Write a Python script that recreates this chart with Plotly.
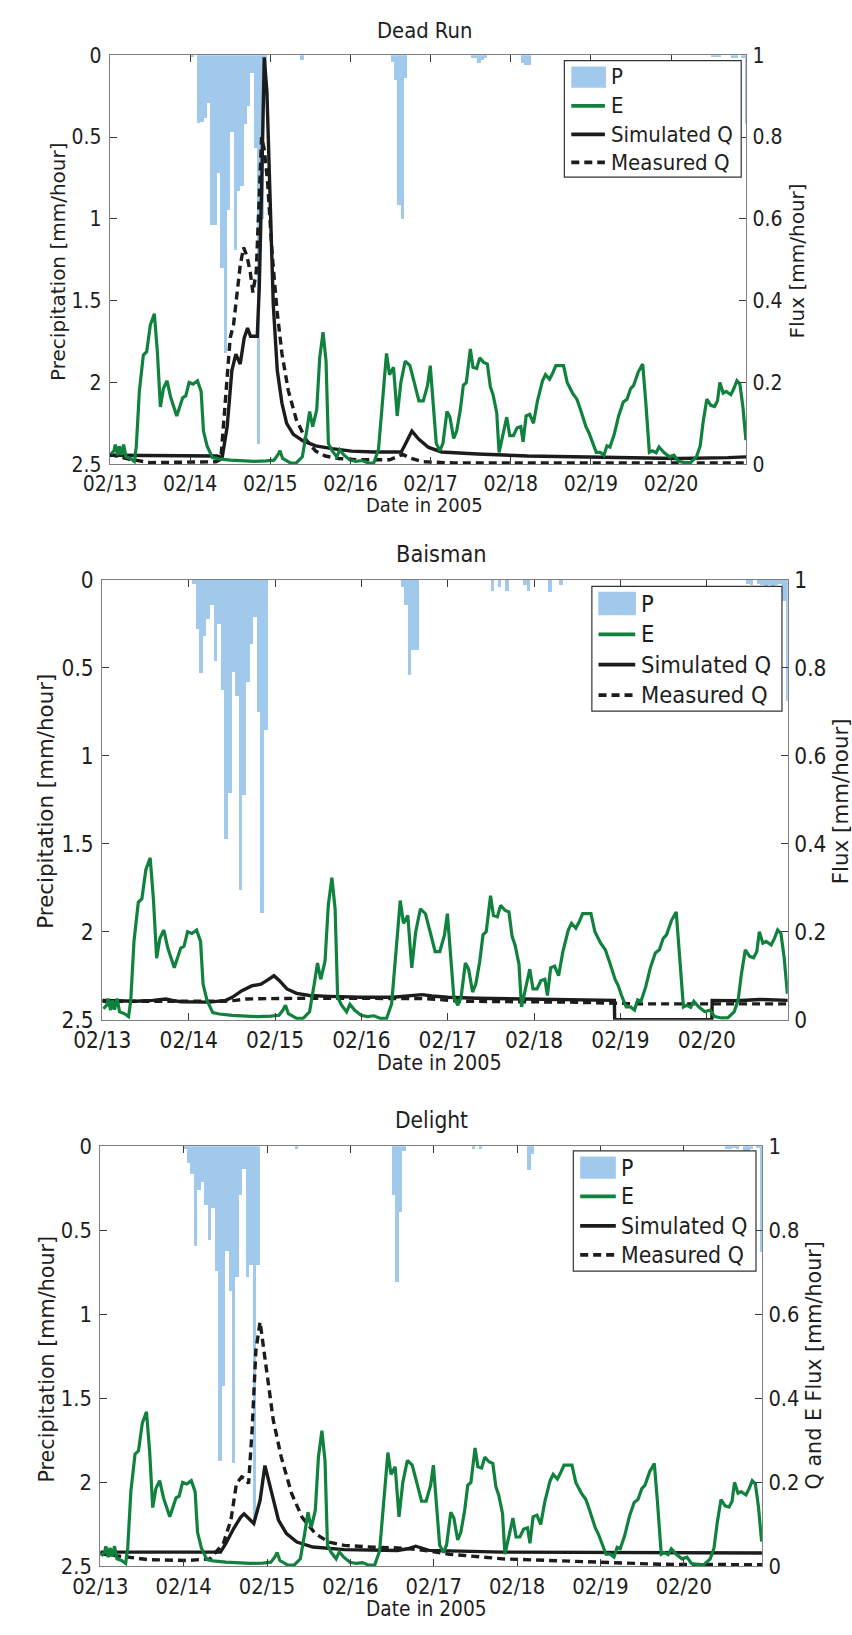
import pandas as pd
import plotly.graph_objects as go

W, H = 852, 1635
START = pd.Timestamp("2005-02-13 00:00")
END_HOURS = 190.5

def at(hours):
    return START + pd.to_timedelta(pd.Series(hours, dtype=float), unit="h")

# ---------------- data ----------------
day_ticks_h = [0, 24, 48, 72, 96, 120, 144, 168]
day_tick_labels = ["02/13", "02/14", "02/15", "02/16", "02/17", "02/18", "02/19", "02/20"]
p_ticks = [0, 0.5, 1, 1.5, 2, 2.5]
flux_ticks = [0, 0.2, 0.4, 0.6, 0.8, 1]

# evaporation (same forcing for the three catchments), hours since 02/13 00:00
e_hours = [0.3, 1.2, 1.6, 2.3, 2.8, 3.4, 4.1, 4.8, 6.1, 7.3, 7.9, 8.8, 10.0, 11.0, 12.1, 13.3,
           14.2, 15.1, 16.0, 17.1, 18.2, 20.0, 21.8, 22.7, 23.7, 24.9, 26.2, 27.3, 28.0, 29.1,
           30.7, 32.5, 36.1, 39.7, 43.2, 46.8, 49.1, 50.2, 50.9, 51.7, 54.0, 55.8, 57.6, 58.9,
           59.8, 60.7, 61.9, 62.8, 63.8, 64.7, 65.4, 66.5, 67.9, 68.8, 70.1, 71.9, 73.7, 75.5,
           77.3, 79.0, 80.4, 81.7, 82.8, 83.7, 84.9, 86.0, 87.1, 88.4, 89.8, 91.1, 92.5, 93.8,
           95.1, 95.9, 96.8, 97.7, 98.8, 99.7, 100.9, 101.8, 102.9, 103.8, 104.9, 105.8, 106.7,
           107.9, 108.7, 109.8, 110.7, 111.9, 113.0, 113.9, 114.7, 115.8, 116.5, 117.0, 118.2,
           118.8, 119.7, 120.8, 121.9, 123.0, 123.7, 124.6, 125.7, 126.8, 128.0, 129.5, 130.4,
           131.6, 132.5, 133.5, 135.8, 136.9, 138.5, 139.8, 140.9, 142.5, 143.4, 144.3, 145.6,
           146.8, 147.9, 148.8, 149.7, 151.0, 152.3, 153.7, 154.8, 155.9, 156.8, 158.2, 159.5,
           160.4, 161.5, 162.4, 163.5, 164.4, 165.8, 167.5, 168.9, 170.2, 172.0, 173.8, 175.6,
           176.7, 177.6, 178.7, 179.9, 181.0, 181.9, 182.6, 183.6, 184.5, 185.9, 186.8, 187.7,
           188.6, 189.5, 190.4]
e_flux = [0.025, 0.033, 0.048, 0.022, 0.044, 0.023, 0.048, 0.018, 0.014, 0.007, 0.044, 0.178,
          0.267, 0.275, 0.341, 0.368, 0.275, 0.140, 0.185, 0.204, 0.163, 0.118, 0.163, 0.167,
          0.200, 0.196, 0.204, 0.178, 0.081, 0.044, 0.016, 0.013, 0.010, 0.008, 0.007, 0.008,
          0.010, 0.022, 0.033, 0.014, 0.003, 0.003, 0.018, 0.081, 0.129, 0.092, 0.133, 0.260,
          0.323, 0.252, 0.051, 0.033, 0.018, 0.035, 0.022, 0.010, 0.007, 0.009, 0.003, 0.003,
          0.036, 0.163, 0.271, 0.219, 0.237, 0.118, 0.200, 0.252, 0.241, 0.200, 0.155, 0.155,
          0.193, 0.241, 0.155, 0.051, 0.033, 0.051, 0.129, 0.115, 0.063, 0.081, 0.133, 0.193,
          0.200, 0.282, 0.237, 0.234, 0.260, 0.249, 0.245, 0.189, 0.170, 0.126, 0.029, 0.048,
          0.096, 0.115, 0.070, 0.070, 0.089, 0.092, 0.055, 0.118, 0.122, 0.100, 0.155, 0.204,
          0.219, 0.208, 0.222, 0.241, 0.241, 0.200, 0.174, 0.159, 0.133, 0.092, 0.077, 0.055,
          0.029, 0.029, 0.022, 0.045, 0.042, 0.074, 0.118, 0.152, 0.159, 0.185, 0.193, 0.226,
          0.245, 0.155, 0.029, 0.033, 0.028, 0.042, 0.029, 0.018, 0.022, 0.007, 0.004, 0.004,
          0.018, 0.044, 0.103, 0.159, 0.144, 0.141, 0.155, 0.200, 0.174, 0.178, 0.170, 0.185,
          0.204, 0.196, 0.141, 0.059]

# Dead Run
dr_p_hours = [24, 26, 27, 28, 29, 30, 31, 32, 33, 34, 35, 36, 37, 38, 39, 40, 41, 42, 43, 44, 45, 46,
              57, 84, 85, 86, 87, 88, 108, 109, 110, 111, 112, 123, 124, 125,
              180, 181, 182, 186, 187, 189, 190]
dr_p = [0.014, 0.415, 0.41, 0.385, 0.295, 1.04, 1.04, 0.72, 1.30, 1.82, 0.95, 0.47, 1.19, 0.83,
        0.80, 0.42, 0.31, 0.11, 0.57, 2.38, 1.0, 0.2,
        0.03, 0.04, 0.15, 0.92, 1.0, 0.14, 0.02, 0.02, 0.05, 0.03, 0.02, 0.05, 0.06, 0.06,
        0.01, 0.01, 0.01, 0.02, 0.02, 0.02, 0.42]
dr_sim_hours = [0, 16, 25, 32, 33.6, 35.1, 36.5, 37.7, 39, 40.2, 41.2, 42.1, 44.1, 44.7, 45.4, 46.2,
                47, 48, 48.9, 50.1, 51.5, 52.9, 54.9, 57.8, 61.6, 66.5, 72.3, 79, 87.2, 88.2, 90.4,
                92.5, 95.4, 99.3, 103.1, 110, 125, 150, 170, 185, 190.5]
dr_sim = [0.022, 0.022, 0.022, 0.02, 0.016, 0.092, 0.229, 0.269, 0.245, 0.309, 0.333, 0.313, 0.313,
          0.43, 0.67, 0.995, 0.91, 0.63, 0.39, 0.229, 0.149, 0.10, 0.073, 0.057, 0.045, 0.038,
          0.032, 0.03, 0.03, 0.045, 0.081, 0.061, 0.041, 0.03, 0.028, 0.025, 0.02, 0.016, 0.014,
          0.016, 0.018]
dr_meas_hours = [0, 6, 12, 20, 31.7, 33.2, 34.1, 35.1, 36, 37, 38, 39, 40, 41, 42, 42.8, 43.8, 44.8,
                 45.4, 46.2, 47.2, 48.6, 50.1, 51.5, 53.4, 55.8, 58.7, 61.6, 64.5, 68.4, 74.2, 83.8,
                 87.7, 89.6, 93.5, 103, 190.5]
dr_meas = [0.024, 0.012, 0.004, 0.004, 0.006, 0.012, 0.117, 0.229, 0.309, 0.341, 0.406, 0.486, 0.53,
           0.51, 0.47, 0.42, 0.47, 0.67, 0.80, 0.77, 0.69, 0.51, 0.37, 0.27, 0.18, 0.109, 0.06,
           0.032, 0.02, 0.014, 0.011, 0.011, 0.024, 0.016, 0.006, 0.003, 0.003]

# Baisman
bs_p_hours = [25, 26, 27, 28, 29, 30, 31, 32, 33, 34, 35, 36, 37, 38, 39, 40, 41, 42, 43, 44, 45,
              83, 84, 85, 86, 87, 108, 110, 112, 117, 118, 124, 127,
              179, 180, 182, 183, 184, 185, 186, 187, 188, 189, 190]
bs_p = [0.02, 0.28, 0.53, 0.32, 0.22, 0.14, 0.46, 0.25, 0.625, 1.47, 1.21, 0.52, 0.66, 1.76, 1.22,
        0.58, 0.365, 0.21, 0.75, 1.89, 0.85,
        0.04, 0.14, 0.54, 0.40, 0.40, 0.06, 0.04, 0.06, 0.03, 0.06, 0.07, 0.03,
        0.02, 0.03, 0.02, 0.03, 0.04, 0.03, 0.04, 0.03, 0.02, 0.12, 0.69]
bs_sim_hours = [0, 9.2, 14, 17.7, 19.5, 21.8, 29.8, 34.3, 36.1, 38.8, 41.5, 44.1, 45.9, 47.7, 49.1,
                51.3, 54, 57.6, 63, 71.9, 80.8, 86.2, 88.9, 91.6, 96, 104, 113, 122, 131, 142.3,
                142.4, 169.4, 169.5, 176, 182.8, 190.5]
bs_sim = [0.044, 0.042, 0.044, 0.047, 0.044, 0.041, 0.040, 0.044, 0.051, 0.066, 0.077, 0.081, 0.09,
          0.10, 0.09, 0.07, 0.06, 0.055, 0.053, 0.051, 0.051, 0.054, 0.057, 0.054, 0.051, 0.049,
          0.048, 0.046, 0.046, 0.044, 0.0, 0.0, 0.044, 0.043, 0.046, 0.044]
bs_meas_hours = [0, 34, 37, 40, 46, 60, 90, 100, 130, 150, 170, 190.5]
bs_meas = [0.042, 0.042, 0.044, 0.047, 0.048, 0.049, 0.048, 0.042, 0.040, 0.036, 0.036, 0.036]

# Delight
dl_p_hours = [24, 25, 26, 27, 28, 29, 30, 31, 32, 33, 34, 35, 36, 37, 38, 39, 40, 41, 42, 43, 44, 45,
              56, 84, 85, 86, 87, 107, 109, 123, 124,
              180, 181, 182, 183, 185, 186, 187, 189, 190]
dl_p = [0.02, 0.10, 0.166, 0.596, 0.264, 0.215, 0.35, 0.557, 0.371, 0.742, 1.875, 1.426, 0.625,
        0.86, 1.885, 0.78, 0.293, 0.137, 0.78, 0.71, 2.22, 0.71,
        0.02, 0.29, 0.81, 0.39, 0.03, 0.02, 0.02, 0.14, 0.05,
        0.02, 0.02, 0.01, 0.02, 0.03, 0.03, 0.02, 0.01, 0.63]
dl_sim_hours = [0, 34.6, 36.1, 38.4, 40.4, 41.4, 44.2, 46, 47.4, 49.1, 51.3, 53.6, 56.6, 61.2, 70.3,
                85.5, 88.5, 90.8, 94.6, 115.8, 150, 190.5]
dl_sim = [0.034, 0.034, 0.054, 0.09, 0.117, 0.125, 0.102, 0.157, 0.24, 0.181, 0.11, 0.078, 0.058,
          0.046, 0.04, 0.038, 0.042, 0.048, 0.038, 0.034, 0.033, 0.032]
dl_meas_hours = [0, 6.5, 14, 25, 31.6, 35.4, 37.6, 39.2, 40.7, 41.8, 42.7, 43.7, 44.8, 46, 47.1, 48.3,
                 49.8, 52.1, 55.1, 58.1, 61.9, 65.7, 70.3, 77.9, 85.5, 91.6, 100.6, 115.8, 131,
                 146.2, 161.3, 190.5]
dl_meas = [0.03, 0.024, 0.016, 0.014, 0.018, 0.054, 0.11, 0.197, 0.213, 0.209, 0.197, 0.324, 0.514,
           0.582, 0.514, 0.435, 0.348, 0.26, 0.173, 0.117, 0.078, 0.058, 0.05, 0.046, 0.044, 0.04,
           0.029, 0.018, 0.013, 0.009, 0.005, 0.004]

# ---------------- styling ----------------
C_P = "#a0c9ec"
C_E = "#11823d"
C_Q = "#1c1c1c"
C_TXT = "#1e1e1e"
C_BOX = "#808080"
DASH = "8px,5px"
F_H = "DejaVu Sans Condensed, Liberation Sans, sans-serif"
F_V = "DejaVu Sans, sans-serif"

def fx(px):
    return px / W

def fy(py):
    return 1 - py / H

# panel geometry in pixels and font sizes
panels = [
    dict(name="Dead Run", right_title="Flux [mm/hour]",
         p_h=dr_p_hours, p=dr_p, sim_h=dr_sim_hours, sim=dr_sim, meas_h=dr_meas_hours, meas=dr_meas,
         left=83.8, right=742.5, top=43.0, bottom=458.5, s=1.0,
         title_xy=(409, 17.5), ylt_xy=(30, 252), yrt_xy=(795, 251.5), xt_xy=(409, 500),
         leg=dict(box=(554.2, 48.3, 737.3, 166.7), patch=(561.4, 54.3, 597.3, 76),
                  line=(561.4, 596.2), text_x=600.5, ys=(65, 94.3, 123.3, 151.7), fs=22)),
    dict(name="Baisman", right_title="Flux [mm/hour]",
         p_h=bs_p_hours, p=bs_p, sim_h=bs_sim_hours, sim=bs_sim, meas_h=bs_meas_hours, meas=bs_meas,
         left=75.9, right=785.5, top=576.0, bottom=1023.0, s=1.07,
         title_xy=(426.6, 549.5), ylt_xy=(17, 801), yrt_xy=(839.5, 801), xt_xy=(425, 1066),
         leg=dict(box=(582.7, 582.6, 779.5, 709.4), patch=(589.3, 588, 628.3, 612),
                  line=(589.6, 627.6), text_x=631.7, ys=(600.4, 631.4, 662.1, 693.2), fs=23.5)),
    dict(name="Delight", right_title="Q and E Flux [mm/hour]",
         p_h=dl_p_hours, p=dl_p, sim_h=dl_sim_hours, sim=dl_sim, meas_h=dl_meas_hours, meas=dl_meas,
         left=73.8, right=758.8, top=1151.5, bottom=1578.5, s=1.035,
         title_xy=(417, 1125), ylt_xy=(19, 1368), yrt_xy=(813, 1374), xt_xy=(411.6, 1622),
         leg=dict(box=(563.5, 1156.3, 752.6, 1278.5), patch=(570.6, 1162, 607.5, 1184.6),
                  line=(570.6, 607.5), text_x=611.3, ys=(1173.4, 1202.4, 1232.4, 1262), fs=22.8)),
]

fig = go.Figure()
layout = dict(width=W, height=H, margin=dict(l=0, r=0, t=0, b=0),
              paper_bgcolor="white", plot_bgcolor="white", showlegend=False,
              font=dict(family=F_H, color=C_TXT), bargap=0)
annotations = []
shapes = []

for i, pn in enumerate(panels):
    k = i + 1
    xa = "x" if k == 1 else f"x{k}"
    ya_p = "y" if k == 1 else f"y{2 * k - 1}"
    ya_f = f"y{2 * k}"
    s = pn["s"]

    fig.add_trace(go.Bar(x=at(pn["p_h"]), y=pn["p"], width=3600000, offset=0,
                         marker=dict(color=C_P, line=dict(width=0)),
                         xaxis=xa, yaxis=ya_p, name="P"))
    fig.add_trace(go.Scatter(x=at(pn["sim_h"]), y=pn["sim"], mode="lines",
                             line=dict(color=C_Q, width=3.4), xaxis=xa, yaxis=ya_f,
                             name="Simulated Q"))
    fig.add_trace(go.Scatter(x=at(pn["meas_h"]), y=pn["meas"], mode="lines",
                             line=dict(color=C_Q, width=3.4, dash=DASH), xaxis=xa, yaxis=ya_f,
                             name="Measured Q"))
    fig.add_trace(go.Scatter(x=at(e_hours), y=e_flux, mode="lines",
                             line=dict(color=C_E, width=3.2), xaxis=xa, yaxis=ya_f, name="E"))

    xdom = [fx(pn["left"]), fx(pn["right"])]
    ydom = [fy(pn["bottom"]), fy(pn["top"])]
    tick_font = dict(family=F_H, size=21 * s, color=C_TXT)
    common = dict(ticks="inside", ticklen=7, tickwidth=1, tickcolor="#3a3a3a",
                  showline=True, linecolor=C_BOX, linewidth=1.2, showgrid=False,
                  zeroline=False, tickfont=tick_font)

    layout["xaxis" if k == 1 else f"xaxis{k}"] = dict(
        type="date", range=[at([0])[0], at([END_HOURS])[0]], domain=xdom,
        anchor=ya_p, tickmode="array", tickvals=list(at(day_ticks_h)),
        ticktext=day_tick_labels, mirror="ticks", ticklabelstandoff=0, **common)
    layout["yaxis" if k == 1 else f"yaxis{2 * k - 1}"] = dict(
        range=[2.5, 0], domain=ydom, anchor=xa, tickmode="array", tickvals=p_ticks,
        ticklabelstandoff=3, **common)
    layout[f"yaxis{2 * k}"] = dict(
        range=[0, 1], domain=ydom, anchor=xa, overlaying=ya_p, side="right",
        tickmode="array", tickvals=flux_ticks, ticklabelstandoff=1, **common)

    # panel title and axis titles
    annotations.append(dict(text=pn["name"], x=fx(pn["title_xy"][0]), y=fy(pn["title_xy"][1]),
                            xref="paper", yref="paper", showarrow=False, xanchor="center",
                            yanchor="middle", font=dict(family=F_H, size=21.8 * s, color=C_TXT)))
    annotations.append(dict(text="Date in 2005", x=fx(pn["xt_xy"][0]), y=fy(pn["xt_xy"][1]),
                            xref="paper", yref="paper", showarrow=False, xanchor="center",
                            yanchor="middle", font=dict(family=F_H, size=20 * s, color=C_TXT)))
    annotations.append(dict(text="Precipitation [mm/hour]", x=fx(pn["ylt_xy"][0]),
                            y=fy(pn["ylt_xy"][1]), xref="paper", yref="paper", showarrow=False,
                            textangle=-90, xanchor="center", yanchor="middle",
                            font=dict(family=F_V, size=20 * s, color=C_TXT)))
    annotations.append(dict(text=pn["right_title"], x=fx(pn["yrt_xy"][0]),
                            y=fy(pn["yrt_xy"][1]), xref="paper", yref="paper", showarrow=False,
                            textangle=-90, xanchor="center", yanchor="middle",
                            font=dict(family=F_V, size=20 * s, color=C_TXT)))

    # legend box
    lg = pn["leg"]
    bx0, by0, bx1, by1 = lg["box"]
    shapes.append(dict(type="rect", xref="paper", yref="paper", x0=fx(bx0), x1=fx(bx1),
                       y0=fy(by1), y1=fy(by0), line=dict(color="#333333", width=1.2),
                       fillcolor="white", layer="above"))
    px0, py0, px1, py1 = lg["patch"]
    shapes.append(dict(type="rect", xref="paper", yref="paper", x0=fx(px0), x1=fx(px1),
                       y0=fy(py1), y1=fy(py0), line=dict(width=0), fillcolor=C_P, layer="above"))
    lx0, lx1 = lg["line"]
    for yy, col, dash in [(lg["ys"][1], C_E, "solid"), (lg["ys"][2], C_Q, "solid"),
                          (lg["ys"][3], C_Q, DASH)]:
        shapes.append(dict(type="line", xref="paper", yref="paper", x0=fx(lx0), x1=fx(lx1),
                           y0=fy(yy), y1=fy(yy), line=dict(color=col, width=3.8, dash=dash),
                           layer="above"))
    for yy, label in zip(lg["ys"], ["P", "E", "Simulated Q", "Measured Q"]):
        annotations.append(dict(text=label, x=fx(lg["text_x"]), y=fy(yy), xref="paper",
                                yref="paper", showarrow=False, xanchor="left", yanchor="middle",
                                font=dict(family=F_H, size=lg["fs"], color=C_TXT)))

layout["annotations"] = annotations
layout["shapes"] = shapes
fig.update_layout(**layout)
fig.write_html("out.html")
